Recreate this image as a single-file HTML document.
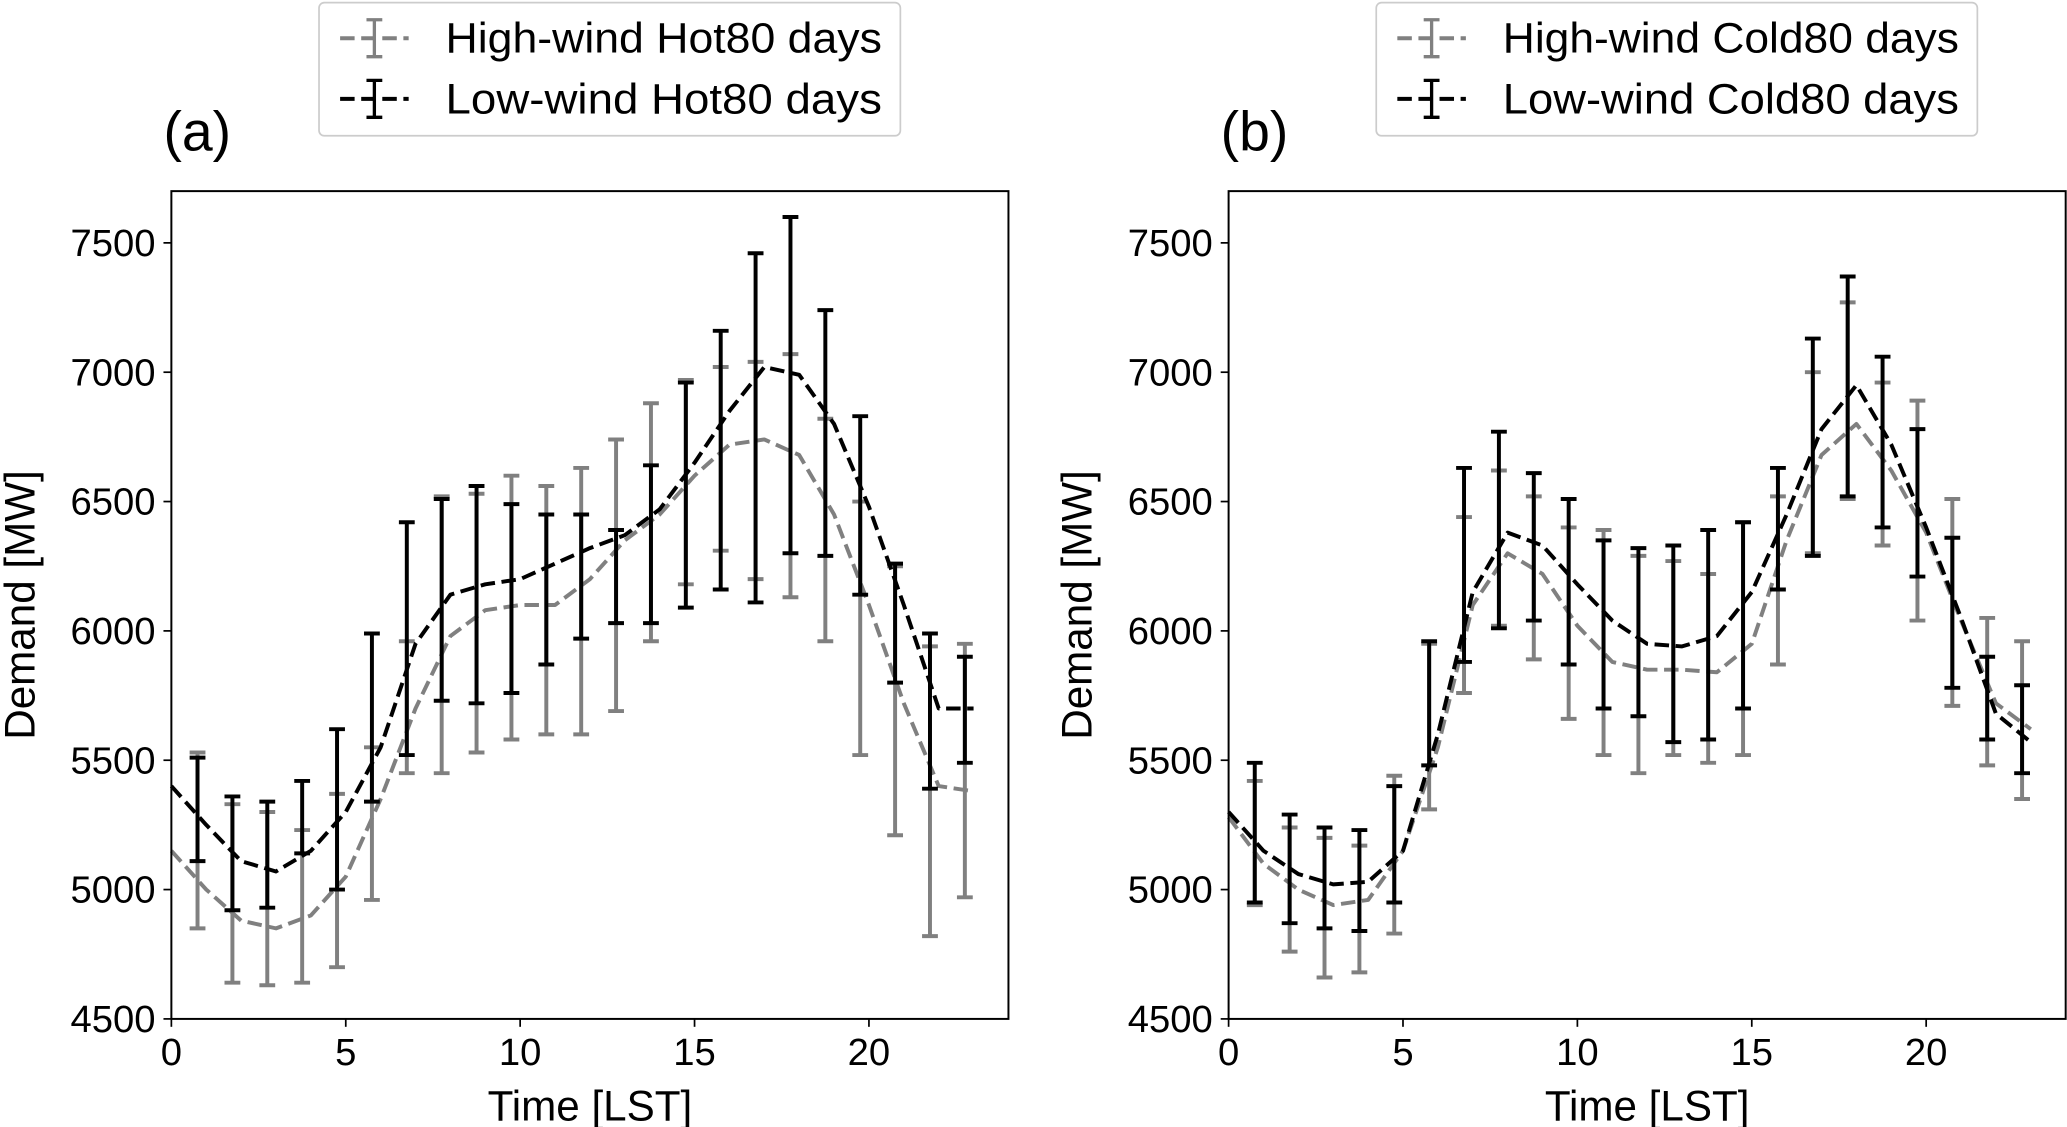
<!DOCTYPE html>
<html><head><meta charset="utf-8"><style>
html,body{margin:0;padding:0;background:#fff;}
svg{display:block;font-family:"Liberation Sans","DejaVu Sans",sans-serif;}
</style></head><body>
<svg id="fig" width="2067" height="1127" viewBox="0 0 1568 855" preserveAspectRatio="none" xmlns="http://www.w3.org/2000/svg"></svg>
<script>
const hours = [0,1,2,3,4,5,6,7,8,9,10,11,12,13,14,15,16,17,18,19,20,21,22,23];
const xTicks = [0,5,10,15,20];
const yTicks = [4500,5000,5500,6000,6500,7000,7500];
// Panel (a)
const aLowLine = [5400,5250,5110,5070,5150,5300,5550,5950,6140,6180,6200,6260,6320,6370,6470,6650,6850,7020,6990,6800,6480,6100,5700,5700];
const aLowBarLo = [5110,4920,4930,5140,5000,5340,5520,5730,5720,5760,5870,5970,6030,6030,6090,6160,6110,6300,6290,6140,5800,5390,5490];
const aLowBarHi = [5510,5360,5340,5420,5620,5990,6420,6510,6560,6490,6450,6450,6390,6640,6960,7160,7460,7600,7240,6830,6260,5990,5900];
const aHighLine = [5150,5000,4880,4850,4900,5050,5350,5700,5980,6080,6100,6100,6200,6350,6450,6600,6720,6740,6680,6450,6100,5720,5400,5380];
const aHighBarLo = [4850,4640,4630,4640,4700,4960,5450,5450,5530,5580,5600,5600,5690,5960,6180,6310,6200,6130,5960,5520,5210,4820,4970];
const aHighBarHi = [5530,5330,5300,5230,5370,5550,5960,6520,6530,6600,6560,6630,6740,6880,6970,7020,7040,7070,6820,6500,6250,5940,5950];
// Panel (b)
const bLowLine = [5300,5150,5060,5020,5030,5150,5600,6150,6380,6330,6180,6040,5950,5940,5980,6150,6450,6780,6950,6720,6400,6050,5680,5570];
const bLowBarLo = [4950,4870,4850,4840,4950,5480,5880,6010,6040,5870,5700,5670,5570,5580,5700,6160,6290,6520,6400,6210,5780,5580,5450];
const bLowBarHi = [5490,5290,5240,5230,5400,5960,6630,6770,6610,6510,6350,6320,6330,6390,6420,6630,7130,7370,7060,6780,6360,5900,5790];
const bHighLine = [5280,5100,5000,4940,4960,5150,5550,6100,6300,6220,6020,5880,5850,5850,5840,5950,6350,6680,6800,6620,6380,6040,5720,5620];
const bHighBarLo = [4940,4760,4660,4680,4830,5310,5760,6020,5890,5660,5520,5450,5520,5490,5520,5870,6300,6510,6330,6040,5710,5480,5350];
const bHighBarHi = [5420,5240,5200,5170,5440,5950,6440,6620,6520,6400,6390,6290,6270,6220,6420,6520,7000,7270,6960,6890,6510,6050,5960];

const NS="http://www.w3.org/2000/svg";
const svg=document.getElementById('fig');
function mk(tag,attrs,parent){const e=document.createElementNS(NS,tag);for(const k in attrs)e.setAttribute(k,attrs[k]);(parent||svg).appendChild(e);return e;}

function panel(left,label,line1,lo1,hi1,line2,lo2,hi2,legTexts,legX,legW){
  const g=mk('g',{});
  
  
  const L=left,R=left+635,T=145,B=773;
  const xs=t=>L+(t-0)/24*(R-L);
  const ys=v=>B-(v-4500)/3200*(B-T);
  const gray='#808080';
  function series(line,lo,hi,col,name){
    const sg=mk('g',{},g);
    
    
    for(let i=0;i<lo.length;i++){
      const t=i+1-0.25, x=xs(t);
      const eb=mk('path',{d:`M${x},${ys(lo[i])}V${ys(hi[i])}M${x-6},${ys(lo[i])}H${x+6}M${x-6},${ys(hi[i])}H${x+6}`,stroke:col,'stroke-width':3,fill:'none'},sg);
      
      
    }
    const d=line.map((v,i)=>(i?'L':'M')+xs(hours[i])+','+ys(v)).join('');
    const p=mk('path',{d:d,stroke:col,'stroke-width':3,fill:'none','stroke-dasharray':'11,5','stroke-linejoin':'round'},sg);
    
    
  }
  series(line1,lo1,hi1,gray,'high-wind');
  series(line2,lo2,hi2,'#000','low-wind');
  const frame=mk('rect',{x:L,y:T,width:R-L,height:B-T,fill:'none',stroke:'#000','stroke-width':1.5},g);
  
  
  xTicks.forEach(t=>{const x=xs(t);mk('line',{x1:x,x2:x,y1:B,y2:B+6,stroke:'#000','stroke-width':1.3},g);
    const tx=mk('text',{x:x,y:B+35,'font-size':29,'text-anchor':'middle'},g);tx.textContent=t;
    
    });
  yTicks.forEach(v=>{const y=ys(v);mk('line',{x1:L-6,x2:L,y1:y,y2:y,stroke:'#000','stroke-width':1.3},g);
    const tx=mk('text',{x:L-12,y:y+10,'font-size':29,'text-anchor':'end'},g);tx.textContent=v;
    
    });
  const xl=mk('text',{x:(L+R)/2,y:850,'font-size':32,'text-anchor':'middle'},g);xl.textContent='Time [LST]';
  
  
  const yl=mk('text',{x:0,y:0,'font-size':32,'text-anchor':'middle',transform:`translate(${L-104},${(T+B)/2}) rotate(-90)`},g);yl.textContent='Demand [MW]';
  
  
  const pl=mk('text',{x:L-6,y:114,'font-size':42},g);pl.textContent='('+label+')';
  
  
  const lg=mk('g',{},g);
  
  
  mk('rect',{x:legX,y:2,width:legW,height:101,rx:4,fill:'#fff',stroke:'#ccc','stroke-width':1.3},lg);
  [[gray,legTexts[0],29],[ '#000',legTexts[1],75]].forEach(([c,txt,cy])=>{
    const e=mk('g',{},lg);
    
    
    const x0=legX+16,xm=legX+42;
    mk('path',{d:`M${x0},${cy}H${x0+52}`,stroke:c,'stroke-width':3,'stroke-dasharray':'11,5'},e);
    mk('path',{d:`M${xm},${cy-14}V${cy+14}M${xm-6},${cy-14}H${xm+6}M${xm-6},${cy+14}H${xm+6}`,stroke:c,'stroke-width':2.5},e);
    const t=mk('text',{x:legX+96,y:cy+11,'font-size':32,textLength:legW-96-14,lengthAdjust:'spacingAndGlyphs'},e);t.textContent=txt;
  });
}
panel(130,'a',aHighLine,aHighBarLo,aHighBarHi,aLowLine,aLowBarLo,aLowBarHi,['High-wind Hot80 days','Low-wind Hot80 days'],242,441);
panel(932,'b',bHighLine,bHighBarLo,bHighBarHi,bLowLine,bLowBarLo,bLowBarHi,['High-wind Cold80 days','Low-wind Cold80 days'],1044,456);
</script>
</body></html>
